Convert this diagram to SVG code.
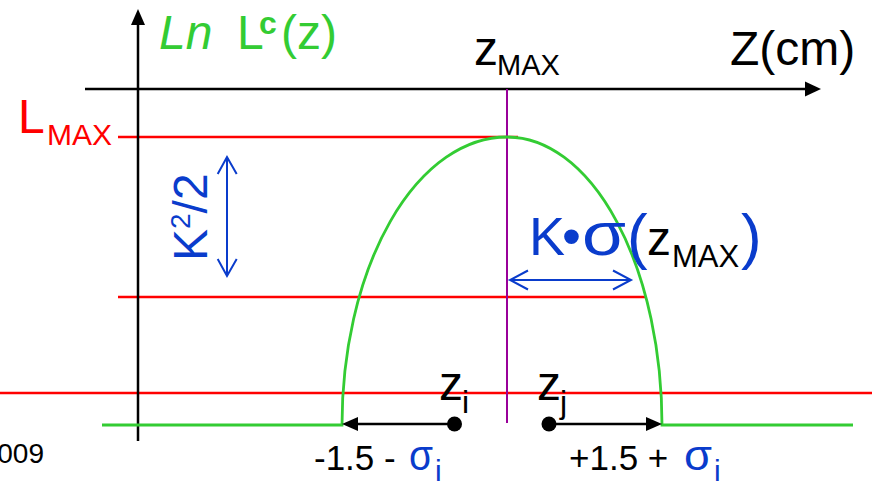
<svg xmlns="http://www.w3.org/2000/svg" width="872" height="482" viewBox="0 0 872 482">
<style>
text{font-family:"Liberation Sans",Arial,sans-serif}
.big{font-size:48px}
.blk{fill:#000}
.grn{fill:#33cc33}
.red{fill:#ff0000}
.blu{fill:#0a3ccc}
.ax{stroke:#000;stroke-width:2.5;fill:none}
.rl{stroke:#ff0000;stroke-width:2.3;fill:none}
.gl{stroke:#33cc33;stroke-width:2.8;fill:none}
.bl{stroke:#0a3ccc;stroke-width:2;fill:none}
</style>
<rect width="872" height="482" fill="#fff"/>
<g id="red-lines">
<line class="rl" x1="118" y1="137" x2="518" y2="137"/>
<line class="rl" x1="118" y1="297" x2="646" y2="297"/>
<line class="rl" x1="0" y1="393" x2="872" y2="393"/>
</g>
<g id="axes">
<line class="ax" x1="138" y1="22" x2="138" y2="441"/>
<polygon points="138,9 131,25 145,25" fill="#000"/>
<line class="ax" x1="85" y1="89" x2="808" y2="89"/>
<polygon points="821,89 805,81.5 805,96.5" fill="#000"/>
</g>
<line id="zmax-line" x1="507" y1="89" x2="507" y2="423" stroke="#990099" stroke-width="2"/>
<g id="curve">
<path class="gl" d="M102,425 H342 A165,288 0 0 1 507,137 A155,288 0 0 1 662,425 H853"/>
</g>
<g id="connectors">
<g id="k2-arrow">
<line class="bl" x1="227" y1="157" x2="227" y2="276"/>
<polyline class="bl" points="217.7,174 227,157 236.7,174"/>
<polyline class="bl" points="217.7,259 227,276 236.7,259"/>
</g>
<g id="ksigma-arrow">
<line class="bl" x1="510" y1="280" x2="631" y2="280"/>
<polyline class="bl" points="528,270.5 510,280 528,289.5"/>
<polyline class="bl" points="613,270.5 631,280 613,289.5"/>
</g>
<g id="left-arrow">
<line x1="454" y1="424" x2="356" y2="424" stroke="#000" stroke-width="2.5"/>
<polygon points="342,424 358,417 358,431" fill="#000"/>
</g>
<g id="right-arrow">
<line x1="549" y1="424" x2="648" y2="424" stroke="#000" stroke-width="2.5"/>
<polygon points="662,424 646,417 646,431" fill="#000"/>
</g>
</g>
<g id="label-y">
<text class="big grn" x="159" y="49" font-style="italic">Ln</text>
<text class="big grn" x="237" y="49">L</text>
<text class="grn" x="259" y="34" font-size="32" font-weight="bold">c</text>
<text class="big grn" x="281" y="49">(z)</text>
</g>
<g id="label-zmax">
<text class="big blk" x="474" y="65">z</text>
<text class="blk" x="497" y="75" font-size="29">MAX</text>
</g>
<g id="label-zcm">
<text class="big blk" x="730" y="65">Z(cm)</text>
</g>
<g id="label-lmax">
<text class="big red" x="18" y="133">L</text>
<text class="red" x="47" y="145" font-size="30">MAX</text>
</g>
<g id="label-k2">
<text class="blu" transform="translate(207,261) rotate(-90)" font-size="48">K<tspan font-size="28" dy="-17">2</tspan><tspan dy="17">/2</tspan></text>
</g>
<g id="label-ksigma">
<text class="blu" x="529" y="255" font-size="54">K</text>
<text class="blu" x="562" y="255" font-size="54">•</text>
<text class="blu" x="582" y="255" font-size="62" textLength="44" lengthAdjust="spacingAndGlyphs">σ</text>
<text class="blu" x="627" y="257" font-size="62">(</text>
<text class="big blk" x="647" y="255">z</text>
<text class="blk" x="672" y="267" font-size="31">MAX</text>
<text class="blu" x="741" y="257" font-size="62">)</text>
</g>
<g id="label-zi">
<text class="big blk" x="439" y="400">z</text>
<text class="blk" x="462" y="413" font-size="32">i</text>
<circle cx="454.5" cy="424" r="7.5" fill="#000"/>
</g>
<g id="label-zj">
<text class="big blk" x="537" y="400">z</text>
<text class="blk" x="560" y="413" font-size="32">j</text>
<circle cx="549" cy="424" r="7.5" fill="#000"/>
</g>
<g id="label-minus">
<text class="blk" x="314" y="470" font-size="35">-1.5 -</text>
<text class="blu" x="409" y="470" font-size="42" textLength="24" lengthAdjust="spacingAndGlyphs">σ</text>
<text class="blu" x="435" y="481" font-size="30">i</text>
</g>
<g id="label-plus">
<text class="blk" x="569" y="470" font-size="35">+1.5 +</text>
<text class="blu" x="684" y="470" font-size="42" textLength="28" lengthAdjust="spacingAndGlyphs">σ</text>
<text class="blu" x="714" y="481" font-size="30">i</text>
</g>
<g id="label-year">
<text class="blk" x="44" y="463" font-size="28" text-anchor="end">2009</text>
</g>
</svg>
